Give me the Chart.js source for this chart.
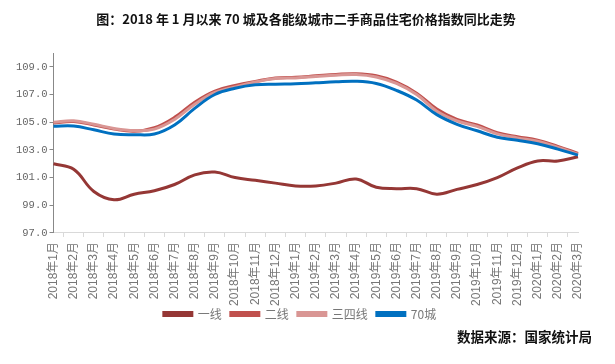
<!DOCTYPE html>
<html>
<head>
<meta charset="utf-8">
<script src="https://cdn.jsdelivr.net/npm/chart.js@4.4.1/dist/chart.umd.min.js"></script>
<style>
  body { margin: 0; background: #fff; }
  .wrap { position: relative; width: 615px; height: 364px; }
  .title {
    position: absolute; left: 0; top: 9px; width: 612px; text-align: center;
    font: bold 13px "Noto Sans CJK SC", sans-serif; color: #111;
  }
  .source {
    position: absolute; right: 23px; top: 326px;
    font: bold 13.5px "Noto Sans CJK SC", sans-serif; color: #111;
  }
</style>
</head>
<body>
<div class="wrap">
  <canvas id="chart" width="615" height="364"></canvas>
  <div class="title">图：2018 年 1 月以来 70 城及各能级城市二手商品住宅价格指数同比走势</div>
  <div class="source">数据来源：国家统计局</div>
</div>
<script>
const $ = document;

// data
const months = [
  '2018年1月', '2018年2月', '2018年3月', '2018年4月', '2018年5月', '2018年6月',
  '2018年7月', '2018年8月', '2018年9月', '2018年10月', '2018年11月', '2018年12月',
  '2019年1月', '2019年2月', '2019年3月', '2019年4月', '2019年5月', '2019年6月',
  '2019年7月', '2019年8月', '2019年9月', '2019年10月', '2019年11月', '2019年12月',
  '2020年1月', '2020年2月', '2020年3月'
];
const tier1 = [102.0, 101.6, 100.0, 99.4, 99.8, 100.05, 100.5, 101.2, 101.4, 101.0, 100.8, 100.6,
  100.4, 100.4, 100.6, 100.9, 100.3, 100.2, 100.2, 99.8, 100.15, 100.5, 101.0, 101.7,
  102.2, 102.2, 102.5];
const tier2 = [104.95, 105.05, 104.8, 104.5, 104.35, 104.6, 105.35, 106.45, 107.25, 107.65, 107.95, 108.2,
  108.25, 108.35, 108.45, 108.5, 108.35, 107.9, 107.1, 105.95, 105.2, 104.8, 104.25, 103.95,
  103.7, 103.25, 102.75];
const tier34 = [105.0, 105.1, 104.85, 104.55, 104.4, 104.5, 105.2, 106.3, 107.15, 107.55, 107.9, 108.15,
  108.2, 108.3, 108.4, 108.45, 108.27, 107.8, 107.0, 105.8, 105.1, 104.7, 104.16, 103.87,
  103.62, 103.18, 102.7];
const city70 = [104.7, 104.72, 104.45, 104.15, 104.1, 104.15, 104.8, 106.0, 107.0, 107.45, 107.7, 107.75,
  107.78, 107.85, 107.92, 107.96, 107.8, 107.3, 106.6, 105.55, 104.85, 104.38, 103.92, 103.7,
  103.45, 103.06, 102.62];
const yTicks = [97, 99, 101, 103, 105, 107, 109];

const ctx = $.querySelector('#chart');

const makeLine = (label, values, color, order) => ({
  label: label,
  data: values,
  borderColor: color,
  backgroundColor: color,
  borderWidth: 3,
  pointRadius: 0,
  tension: 0.4,
  fill: false,
  order: order
});

// legend sits right under the longest month labels in the original
const legendLift = {
  id: 'legendLift',
  afterLayout: (chart) => {
    chart.legend.top -= 12;
    chart.legend.bottom -= 12;
    chart.legend.left += 4;
    chart.legend.right += 4;
  }
};

new Chart(ctx, {
  type: 'line',
  data: {
    labels: months,
    datasets: [
      makeLine('一线', tier1, '#953735', 4),
      makeLine('二线', tier2, '#c0504d', 3),
      makeLine('三四线', tier34, '#d99694', 2),
      makeLine('70城', city70, '#0070c0', 1)
    ]
  },
  plugins: [legendLift],
  options: {
    responsive: false,
    animation: false,
    layout: { padding: { left: 14, right: 37, top: 53, bottom: 22 } },
    plugins: {
      title: { display: false },
      legend: {
        position: 'bottom',
        labels: {
          boxWidth: 28,
          boxHeight: 3,
          padding: 9,
          color: '#777',
          font: { family: '"Noto Sans CJK SC", sans-serif', size: 12 },
          sort: (a, b) => a.datasetIndex - b.datasetIndex
        }
      },
      tooltip: { enabled: false }
    },
    scales: {
      x: {
        grid: { drawOnChartArea: false, offset: true, tickLength: 4, color: '#d9d9d9' },
        border: { color: '#d9d9d9' },
        ticks: {
          autoSkip: false, minRotation: 90, maxRotation: 90, padding: 5,
          color: '#777',
          font: { family: '"Liberation Sans", "Noto Sans CJK SC", sans-serif', size: 12 }
        }
      },
      y: {
        min: 97,
        max: 110,
        afterBuildTicks: (axis) => { axis.ticks = yTicks.map((v) => ({ value: v })); },
        grid: { drawOnChartArea: false, tickLength: 4, color: '#888' },
        border: { color: '#888' },
        ticks: {
          padding: 2,
          color: '#666',
          font: { family: '"Liberation Mono", monospace', size: 10.5 },
          callback: (v) => Number(v).toFixed(1)
        }
      }
    }
  }
});
</script>
</body>
</html>
